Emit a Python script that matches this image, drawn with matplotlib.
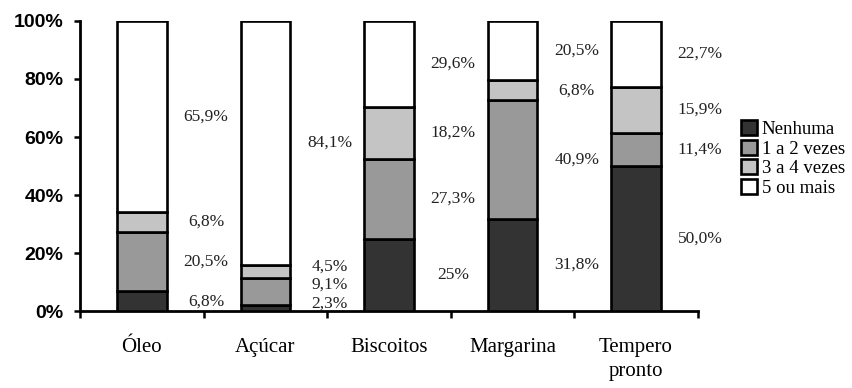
import numpy as np
import matplotlib.pyplot as plt

# frequencia de consumo por produto (%)
produtos = ["Óleo", "Açúcar", "Biscoitos", "Margarina", "Tempero\npronto"]
nenhuma = [6.8, 2.3, 25.0, 31.8, 50.0]
vezes_1_2 = [20.5, 9.1, 27.3, 40.9, 11.4]
vezes_3_4 = [6.8, 4.5, 18.2, 6.8, 15.9]
cinco_mais = [65.9, 84.1, 29.6, 20.5, 22.7]
rotulos = [
    ["6,8%", "20,5%", "6,8%", "65,9%"],
    ["2,3%", "9,1%", "4,5%", "84,1%"],
    ["25%", "27,3%", "18,2%", "29,6%"],
    ["31,8%", "40,9%", "6,8%", "20,5%"],
    ["50,0%", "11,4%", "15,9%", "22,7%"],
]
legendas = ["Nenhuma", "1 a 2 vezes", "3 a 4 vezes", "5 ou mais"]
cores = ["#333333", "#999999", "#c4c4c4", "#ffffff"]

series = np.array([nenhuma, vezes_1_2, vezes_3_4, cinco_mais])
x = np.arange(len(produtos))

fig = plt.figure(figsize=(8.52, 3.88), dpi=100)
ax = fig.add_axes([0.094, 0.198, 0.725, 0.748])

base = np.zeros(len(produtos))
barras = []
for vals, cor, nome in zip(series, cores, legendas):
    b = ax.bar(x, vals, 0.4, bottom=base, color=cor, edgecolor="black",
               linewidth=1.9, label=nome, zorder=3)
    barras.append(b)
    base += vals

# rotulos ao lado direito de cada barra, afastados quando muito proximos
for i in x:
    centros = np.cumsum(series[:, i]) - series[:, i] / 2
    ys = []
    for c in centros:
        y = max(c, 2.7)
        if ys and y - ys[-1] < 6.3:
            y = ys[-1] + 6.3
        ys.append(y)
    for y, txt in zip(ys, rotulos[i]):
        ax.text(i + 0.52, y, txt, ha="center", va="center",
                fontsize=12.5, family="Liberation Serif", color="#222222")

ax.set_xlim(-0.5, 4.5)
ax.set_ylim(0, 100)
ax.set_yticks(range(0, 101, 20))
ax.set_yticklabels([f"{v}%" for v in range(0, 101, 20)],
                   fontsize=14, fontweight="bold", family="Liberation Sans")
ax.set_xticks(x)
ax.set_xticklabels(produtos, fontsize=15, family="Liberation Serif",
                   linespacing=1.4, va="top")
ax.set_xticks(np.arange(-0.5, 5, 1), minor=True)
ax.tick_params(axis="x", which="major", length=0, pad=19)
ax.tick_params(axis="x", which="minor", length=5, width=1.8, direction="out")
ax.tick_params(axis="y", length=4, width=1.8, direction="out", pad=8)

for lado in ["top", "right"]:
    ax.spines[lado].set_visible(False)
for lado in ["left", "bottom"]:
    ax.spines[lado].set_linewidth(2.0)

fig.legend(handles=barras, labels=legendas, loc="upper left",
           bbox_to_anchor=(0.870, 0.69), frameon=False,
           prop={"family": "Liberation Serif", "size": 13.5},
           handlelength=0.85, handleheight=0.85, handletextpad=0.25,
           labelspacing=0.08, borderpad=0, borderaxespad=0)

fig.savefig("out.png", dpi=100)
